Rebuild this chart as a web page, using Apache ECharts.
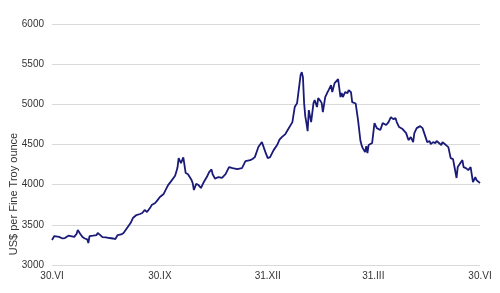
<!DOCTYPE html>
<html>
<head>
<meta charset="utf-8">
<script src="https://cdn.jsdelivr.net/npm/echarts@6/dist/echarts.min.js"></script>
<style>
  html, body { margin: 0; padding: 0; background: #fff; }
  #chart { width: 500px; height: 293px; }
</style>
</head>
<body>
<div id="chart"></div>
<script>
// days since 30.VI and price (US$ per fine troy ounce)
const days = [0, 2, 3, 6, 9, 11, 14, 15, 19, 21, 22, 24, 26, 28, 30, 31, 32, 35, 38, 39,
  41, 43, 46, 49, 52, 54, 56, 59, 61, 62, 64, 67, 69, 72, 75, 77, 79, 81, 84, 85,
  88, 90, 92, 95, 96, 99, 101, 102, 105, 107, 108, 110, 112, 113, 114, 116, 119, 120, 121, 123,
  125, 127, 129, 132, 134, 136, 137, 139, 142, 143, 145, 148, 151, 154, 155, 158, 160, 162, 165, 167,
  169, 171, 173, 176, 179, 182, 184, 186, 189, 192, 194, 196, 199, 201, 205, 207, 209, 210, 212, 213,
  214, 215, 216, 217, 218, 219, 221, 223, 224, 226, 227, 229, 230, 231, 233, 235, 236, 238, 239, 241,
  244, 245, 246, 247, 248, 250, 252, 253, 255, 256, 257, 259, 260, 261, 263, 264, 265, 267, 268, 269,
  270, 273, 274, 275, 277, 280, 282, 285, 287, 289, 291, 293, 294, 296, 299, 302, 304, 306, 308, 309,
  311, 314, 316, 318, 320, 322, 323, 325, 327, 328, 330, 332, 333, 336, 338, 340, 342, 345, 346, 350,
  351, 353, 355, 357, 359, 361, 362, 365];
const prices = [3311, 3360, 3345, 3350, 3330, 3336, 3365, 3360, 3350, 3390, 3435, 3390, 3348, 3330, 3320, 3274, 3360, 3365, 3373, 3398,
  3375, 3348, 3345, 3336, 3330, 3323, 3373, 3380, 3398, 3420, 3460, 3522, 3585, 3622, 3635, 3647, 3684, 3660, 3720, 3746,
  3771, 3808, 3846, 3880, 3900, 3995, 4032, 4010, 4110, 4210, 4330, 4268, 4340, 4356, 4145, 4130, 4057, 4020, 3933, 4010,
  3995, 3958, 4020, 4095, 4157, 4190, 4130, 4075, 4095, 4090, 4085, 4130, 4219, 4206, 4200, 4194, 4200, 4206, 4293, 4300,
  4306, 4320, 4343, 4468, 4530, 4405, 4331, 4343, 4430, 4493, 4560, 4592, 4630, 4680, 4779, 4966, 5015, 5020, 5364, 5400,
  5339, 5015, 4850, 4766, 4667, 4928, 4779, 5015, 5053, 4966, 5078, 5040, 5015, 4903, 5090, 5152, 5180, 5240, 5152, 5264,
  5314, 5326, 5090, 5140, 5090, 5152, 5140, 5177, 5150, 5028, 5015, 5010, 5015, 4804, 4550, 4493, 4455, 4405, 4480, 4393,
  4493, 4518, 4530, 4766, 4704, 4680, 4766, 4742, 4779, 4841, 4816, 4828, 4779, 4717, 4692, 4642, 4555, 4592, 4530, 4642,
  4704, 4729, 4704, 4617, 4530, 4543, 4505, 4530, 4518, 4543, 4518, 4493, 4530, 4493, 4468, 4331, 4318, 4083, 4219, 4306,
  4219, 4206, 4181, 4219, 4032, 4095, 4057, 4020];

const tickDays = [0, 92, 184, 274, 365];
const tickLabels = ['30.VI', '30.IX', '31.XII', '31.III', '30.VI'];
const yTicks = [3000, 3500, 4000, 4500, 5000, 5500, 6000];
const yName = 'US$ per Fine Troy ounce';

const seriesData = days.map((d, i) => [d, prices[i]]);

const chart = echarts.init(document.getElementById('chart'));
chart.setOption({
  animation: false,
  grid: { left: 52, right: 20, top: 24, bottom: 28 },
  xAxis: {
    type: 'value',
    min: 0,
    max: 365,
    axisLine: { show: false },
    axisTick: { show: false },
    splitLine: { show: false },
    axisLabel: {
      customValues: tickDays,
      formatter: v => tickLabels[tickDays.indexOf(v)] || '',
      color: '#333',
      fontFamily: 'Liberation Sans',
      fontSize: 10,
      margin: 6
    }
  },
  yAxis: {
    type: 'value',
    min: yTicks[0],
    max: yTicks[yTicks.length - 1],
    interval: 500,
    axisLine: { show: false },
    axisTick: { show: false },
    splitLine: { lineStyle: { color: '#d9d9d9', width: 1 } },
    axisLabel: {
      formatter: v => String(v),
      color: '#333',
      fontFamily: 'Liberation Sans',
      fontSize: 10,
      margin: 8
    }
  },
  graphic: [{
    type: 'text',
    x: 14,
    y: 194,
    rotation: Math.PI / 2,
    style: {
      text: yName,
      fill: '#333',
      font: '11px "Liberation Sans"',
      textAlign: 'center',
      textVerticalAlign: 'middle'
    }
  }],
  series: [{
    type: 'line',
    data: seriesData,
    showSymbol: false,
    symbol: 'none',
    lineStyle: { color: '#1a1a78', width: 1.8 }
  }]
});
</script>
</body>
</html>
